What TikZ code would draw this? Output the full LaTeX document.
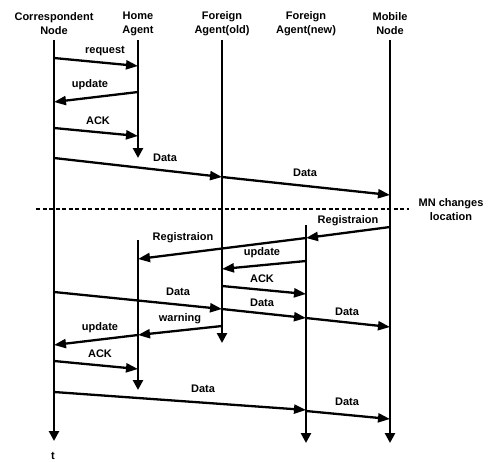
\documentclass[tikz,border=0pt]{standalone}
\usepackage{fontspec}
\setmainfont{Liberation Sans}
\usetikzlibrary{arrows.meta,positioning}

\begin{document}
\begin{tikzpicture}[x=1pt,y=-1pt,
  every node/.style={font=\bfseries\fontsize{11}{14}\selectfont, inner sep=0pt},
  head/.style={align=center},
  life/.style={line width=2.6pt, -{Triangle[length=10pt,width=10pt]}},
  msg/.style={line width=2.3pt, -{Triangle[length=12pt,width=9pt]}}]
\useasboundingbox (0,0) rectangle (495,461);

% entities
\node[head] (cn) at (54,24) {Correspondent\\Node};
\node[head] (ha) at (138,24) {Home\\Agent};
\node[head] (fo) at (222,24) {Foreign\\Agent(old)};
\node[head] (fn) at (306,24) {Foreign\\Agent(new)};
\node[head] (mn) at (390,24) {Mobile\\Node};

% life lines
\draw[life] (cn |- 0,40) -- (cn |- 0,441);
\draw[life] (ha |- 0,40) -- (ha |- 0,158);
\draw[life] (ha |- 0,240) -- (ha |- 0,390);
\draw[life] (fo |- 0,40) -- (fo |- 0,343);
\draw[life] (fn |- 0,225) -- (fn |- 0,443);
\draw[life] (mn |- 0,40) -- (mn |- 0,443);
\node (t) at (53,456) {t};

% handoff
\coordinate (sepl) at (36,209);
\coordinate (sepr) at (409,209);
\draw[line width=2pt, dash pattern=on 4pt off 2.5pt] (sepl) -- (sepr);
\node[align=center] (move) at (451,210) {MN changes\\location};

% messages
\foreach \a/\ya/\b/\yb/\txt/\lx/\ly [count=\i] in {
  cn/58/ha/66/request/105/51,
  ha/92/cn/102/update/90/85,
  cn/128/ha/136/ACK/98/121,
  cn/158/fo/177/Data/165/158,
  fo/177/mn/195/Data/305/173,
  mn/227/fn/238/Registraion/348/221,
  fn/238/ha/259/Registraion/183/238,
  fn/261/fo/269/update/262/253,
  fo/286/fn/294/ACK/262/279,
  cn/292/fo/309/Data/178/292,
  fo/309/fn/318/Data/262/303,
  fn/318/mn/327/Data/347/312,
  fo/326/ha/335/warning/180/319,
  ha/335/cn/345/update/100/328,
  cn/361/ha/369/ACK/100/354,
  cn/392/fn/410/Data/203/389,
  fn/411/mn/419/Data/347/402}{
  \draw[msg] (\a |- 0,\ya) -- (\b |- 0,\yb);
  \node (m\i) at (\lx,\ly) {\txt};
}
\end{tikzpicture}
\end{document}
